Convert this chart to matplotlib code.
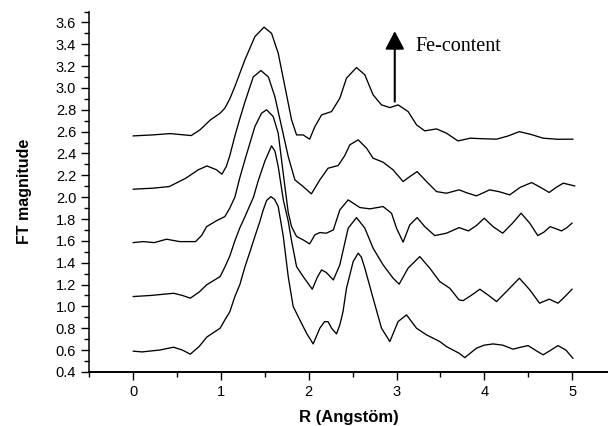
import numpy as np
import matplotlib
matplotlib.use("Agg")
import matplotlib.pyplot as plt
from matplotlib.ticker import MultipleLocator

# FT magnitude curves, bottom (lowest Fe) to top (highest Fe)
r5 = [0.00, 0.10, 0.30, 0.46, 0.56, 0.65, 0.75, 0.84, 0.99, 1.044, 1.10, 1.158, 1.215, 1.272, 1.33,
      1.386, 1.44, 1.48, 1.52, 1.568, 1.61, 1.652, 1.71, 1.766, 1.822, 1.898, 1.975, 2.05, 2.126, 2.18,
      2.22, 2.26, 2.316, 2.354, 2.39, 2.43, 2.506, 2.563, 2.60, 2.639, 2.733, 2.829, 2.924, 3.018, 3.114,
      3.228, 3.342, 3.493, 3.569, 3.713, 3.778, 3.911, 4.00, 4.10, 4.21, 4.328, 4.41, 4.499, 4.58, 4.67,
      4.76, 4.84, 4.93, 5.01]
v5 = [0.59, 0.583, 0.60, 0.626, 0.60, 0.562, 0.632, 0.72, 0.80, 0.876, 0.95, 1.09, 1.20, 1.36, 1.50,
      1.64, 1.77, 1.88, 1.97, 2.005, 1.98, 1.914, 1.64, 1.273, 1.00, 0.876, 0.754, 0.656, 0.80, 0.86,
      0.86, 0.80, 0.748, 0.83, 0.95, 1.166, 1.41, 1.487, 1.45, 1.35, 1.075, 0.80, 0.678, 0.861, 0.922,
      0.80, 0.739, 0.678, 0.632, 0.571, 0.531, 0.617, 0.645, 0.656, 0.645, 0.608, 0.625, 0.641, 0.60, 0.556,
      0.60, 0.641, 0.60, 0.525]

r4 = [0.00, 0.20, 0.46, 0.56, 0.65, 0.75, 0.836, 0.99, 1.044, 1.10, 1.158, 1.215, 1.272, 1.37, 1.424,
      1.50, 1.576, 1.615, 1.652, 1.71, 1.766, 1.804, 1.861, 1.936, 2.04, 2.10, 2.146, 2.20, 2.28, 2.354,
      2.449, 2.544, 2.639, 2.733, 2.847, 2.961, 3.03, 3.132, 3.265, 3.379, 3.493, 3.607, 3.713, 3.76,
      3.85, 3.95, 4.05, 4.14, 4.27, 4.40, 4.52, 4.63, 4.74, 4.84, 4.92, 5.00]
v4 = [1.09, 1.10, 1.12, 1.10, 1.075, 1.13, 1.197, 1.273, 1.36, 1.46, 1.60, 1.72, 1.82, 2.00, 2.15,
      2.33, 2.47, 2.42, 2.28, 1.975, 1.78, 1.60, 1.364, 1.273, 1.157, 1.27, 1.334, 1.31, 1.242, 1.38,
      1.716, 1.813, 1.716, 1.533, 1.38, 1.258, 1.203, 1.35, 1.456, 1.35, 1.227, 1.166, 1.059, 1.053,
      1.10, 1.157, 1.10, 1.044, 1.15, 1.258, 1.15, 1.029, 1.066, 1.029, 1.09, 1.157]

r3 = [0.00, 0.11, 0.24, 0.38, 0.53, 0.71, 0.78, 0.836, 0.95, 1.044, 1.10, 1.158, 1.215, 1.272, 1.386,
      1.462, 1.52, 1.595, 1.652, 1.69, 1.728, 1.766, 1.804, 1.861, 1.936, 2.01, 2.07, 2.126, 2.20, 2.28,
      2.354, 2.449, 2.582, 2.696, 2.847, 2.943, 3.00, 3.075, 3.151, 3.235, 3.322, 3.436, 3.569, 3.713,
      3.82, 3.91, 4.00, 4.10, 4.21, 4.32, 4.42, 4.52, 4.61, 4.68, 4.75, 4.82, 4.88, 4.94, 5.00]
v3 = [1.584, 1.593, 1.584, 1.615, 1.593, 1.593, 1.65, 1.73, 1.785, 1.822, 1.90, 2.00, 2.18, 2.34, 2.646,
      2.769, 2.80, 2.738, 2.585, 2.341, 2.097, 1.86, 1.73, 1.64, 1.609, 1.572, 1.655, 1.676, 1.67, 1.70,
      1.883, 1.975, 1.905, 1.893, 1.914, 1.853, 1.716, 1.588, 1.746, 1.813, 1.73, 1.648, 1.67, 1.721,
      1.691, 1.74, 1.807, 1.73, 1.67, 1.76, 1.853, 1.76, 1.648, 1.68, 1.73, 1.71, 1.691, 1.72, 1.762]

r2 = [0.00, 0.22, 0.41, 0.60, 0.74, 0.84, 0.95, 1.01, 1.06, 1.10, 1.158, 1.215, 1.272, 1.367, 1.455,
      1.54, 1.614, 1.69, 1.766, 1.842, 1.936, 2.03, 2.126, 2.22, 2.335, 2.41, 2.468, 2.563, 2.658, 2.733,
      2.847, 2.961, 3.075, 3.151, 3.235, 3.342, 3.456, 3.569, 3.713, 3.80, 3.91, 3.99, 4.06, 4.17, 4.29,
      4.41, 4.54, 4.64, 4.74, 4.82, 4.90, 5.03]
v2 = [2.073, 2.082, 2.097, 2.174, 2.25, 2.286, 2.25, 2.21, 2.28, 2.38, 2.56, 2.72, 2.87, 3.10, 3.16,
      3.10, 2.92, 2.646, 2.372, 2.158, 2.097, 2.03, 2.158, 2.265, 2.29, 2.38, 2.479, 2.525, 2.449, 2.357,
      2.32, 2.25, 2.143, 2.188, 2.234, 2.143, 2.051, 2.036, 2.067, 2.04, 2.012, 2.04, 2.067, 2.05, 2.021,
      2.09, 2.134, 2.09, 2.043, 2.09, 2.128, 2.103]

r1 = [0.00, 0.22, 0.42, 0.66, 0.76, 0.88, 0.99, 1.044, 1.10, 1.158, 1.272, 1.386, 1.49, 1.576, 1.652,
      1.728, 1.804, 1.861, 1.936, 2.01, 2.07, 2.146, 2.26, 2.354, 2.43, 2.544, 2.639, 2.733, 2.829, 2.924,
      3.018, 3.132, 3.228, 3.322, 3.456, 3.569, 3.70, 3.84, 3.98, 4.14, 4.27, 4.40, 4.53, 4.67, 4.84, 5.01]
v1 = [2.561, 2.57, 2.582, 2.564, 2.616, 2.708, 2.769, 2.815, 2.90, 3.013, 3.257, 3.47, 3.557, 3.50, 3.318,
      3.013, 2.708, 2.57, 2.57, 2.531, 2.646, 2.753, 2.784, 2.906, 3.09, 3.187, 3.12, 2.937, 2.845, 2.82,
      2.845, 2.784, 2.662, 2.607, 2.625, 2.586, 2.515, 2.54, 2.535, 2.531, 2.56, 2.60, 2.575, 2.54, 2.53, 2.531]

curves = [(r5, v5), (r4, v4), (r3, v3), (r2, v2), (r1, v1)]

fig = plt.figure(figsize=(6.08, 4.26), dpi=100)
ax = fig.add_axes([0.147, 0.127, 0.853, 0.846])

for r, v in curves:
    ax.plot(r, v, color="black", lw=0.95, solid_joinstyle="round")

ax.set_xlim(-0.5, 5.41)
ax.set_ylim(0.4, 3.70)

ax.spines["top"].set_visible(False)
ax.spines["right"].set_visible(False)
ax.spines["left"].set_linewidth(1.1)
ax.spines["bottom"].set_linewidth(1.4)

ax.xaxis.set_minor_locator(MultipleLocator(0.5))
ax.yaxis.set_minor_locator(MultipleLocator(0.1))
ax.set_xticks([0, 1, 2, 3, 4, 5])
ax.set_yticks(np.round(np.arange(0.4, 3.61, 0.2), 1))
ax.yaxis.set_major_formatter(plt.FuncFormatter(lambda y, p: "%.1f" % y))

ax.tick_params(which="major", direction="out", length=6, width=1.0, labelsize=10.5)
ax.tick_params(which="minor", direction="out", length=3.5, width=1.0)
for lab in ax.get_xticklabels() + ax.get_yticklabels():
    lab.set_family("Liberation Sans")

ax.set_xlabel("R (Angstöm)", fontsize=12, fontweight="bold", family="Liberation Sans", labelpad=8)
ax.set_ylabel("FT magnitude", fontsize=11.5, fontweight="bold", family="Liberation Sans", labelpad=17)

ax.annotate("", xy=(2.98, 3.52), xytext=(2.98, 2.875),
            arrowprops=dict(arrowstyle="-|>,head_length=0.55,head_width=0.29",
                            mutation_scale=20, color="black", lw=1.5, shrinkA=0, shrinkB=0))
ax.text(3.21, 3.376, "Fe-content", fontsize=14.5, family="Liberation Serif", va="center", ha="left")

fig.savefig("out.png", dpi=100)
